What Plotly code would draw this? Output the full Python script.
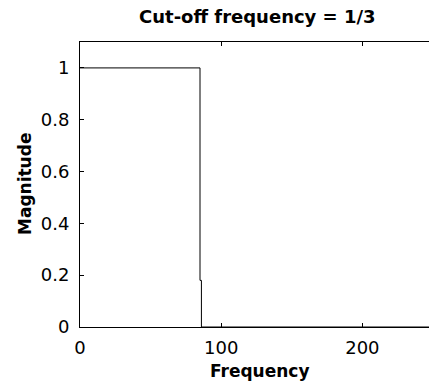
import plotly.graph_objects as go

# Data (ideal low-pass filter magnitude)
frequency = [0, 85, 85, 86, 86, 255]
magnitude = [1, 1, 0.18, 0.18, 0, 0]
x_ticks = [0, 100, 200]
y_ticks = [0, 0.2, 0.4, 0.6, 0.8, 1]
title_text = "Cut-off frequency = 1/3"
x_label = "Frequency"
y_label = "Magnitude"

W, H = 429, 387
L, R, T, B = 80, 0, 42, 60
PW, PH = W - L - R, H - T - B


def px(page_x):
    return (page_x - L) / PW


def py(page_y):
    return ((H - B) - page_y) / PH


fig = go.Figure()
fig.add_trace(go.Scatter(x=frequency, y=magnitude, mode="lines",
                         line=dict(color="black", width=1), showlegend=False,
                         hoverinfo="skip"))

fig.update_layout(
    width=W, height=H,
    margin=dict(l=L, r=R, t=T, b=B, pad=0),
    paper_bgcolor="white", plot_bgcolor="white",
    font=dict(family="DejaVu Sans", size=18, color="black"),
    showlegend=False,
)
fig.update_xaxes(range=[0, 247.2], tickvals=x_ticks, ticks="inside", ticklen=4,
                 tickcolor="black", showline=True, linecolor="black", linewidth=1,
                 mirror="ticks", showgrid=False, zeroline=False,
                 tickfont=dict(family="DejaVu Sans", size=18, color="black"),
                 ticklabelstandoff=4)
fig.update_yaxes(range=[0, 1.1], tickvals=y_ticks, ticks="inside", ticklen=4,
                 tickcolor="black", showline=True, linecolor="black", linewidth=1,
                 mirror=False, showgrid=False, zeroline=False,
                 tickfont=dict(family="DejaVu Sans", size=18, color="black"),
                 ticklabelstandoff=6)

fig.add_annotation(text=title_text, xref="paper", yref="paper",
                   x=px(257), y=py(16.5),
                   xanchor="center", yanchor="middle", showarrow=False, borderpad=0,
                   font=dict(family="DejaVu Sans", size=18, color="black", weight="bold"))
fig.add_annotation(text=x_label, xref="paper", yref="paper",
                   x=px(260), y=py(371),
                   xanchor="center", yanchor="middle", showarrow=False, borderpad=0,
                   font=dict(family="DejaVu Sans", size=17, color="black", weight="bold"))
fig.add_annotation(text=y_label, xref="paper", yref="paper",
                   x=px(25), y=py(184),
                   xanchor="center", yanchor="middle", textangle=-90, showarrow=False,
                   borderpad=0,
                   font=dict(family="DejaVu Sans", size=17, color="black", weight="bold"))

fig.write_html("out.html", config={"displayModeBar": False},
               post_script="document.body.style.margin='0';document.body.style.overflow='hidden';")
